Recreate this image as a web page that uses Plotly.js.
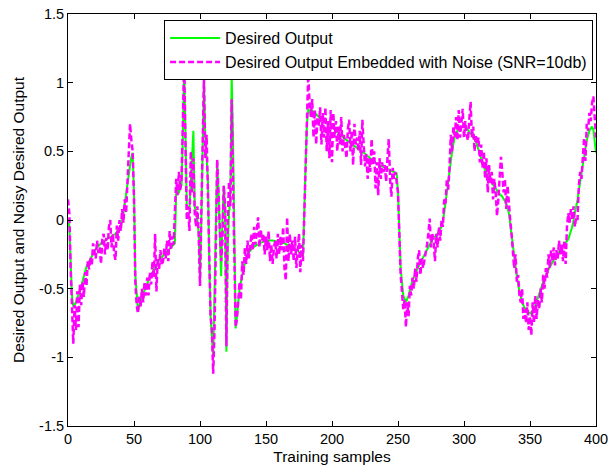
<!DOCTYPE html>
<html>
<head>
<meta charset="utf-8">
<script src="https://cdn.plot.ly/plotly-3.0.1.min.js"></script>
<style>html,body{margin:0;padding:0;background:#fff;}#chart{width:609px;height:474px;}</style>
</head>
<body>
<div id="chart"></div>
<script>
// Desired output (clean signal), breakpoints
var desiredX = [0,1,3,4,6,10,14,18,21,25,29,33,36,40,42,44,46,48,49,50,51,53,56,61,66,70,74,78,80,81,82,84,86,87,88,89,90,92,93,95,96,97,98,99,100,101,102,103,104,105,106,107,108,110,111,112,113,114,115,116,117,118,119,120,121,122,123,124,125,126,127,128,130,133,136,140,145,150,155,160,164,170,174,178,179,180,181,182,186,192,199,206,214,224,234,244,249,250,251,252,254,256,258,261,265,269,273,276,280,283,285,287,289,291,293,296,299,302,305,309,313,316,319,322,326,329,332,334,336,338,340,342,344,347,350,353,356,360,364,368,371,375,379,382,384,386,389,391,393,395,397,398,400];
var desiredY = [0,-0.05,-0.55,-0.63,-0.6,-0.48,-0.34,-0.26,-0.21,-0.17,-0.14,-0.12,-0.1,-0.05,0.05,0.19,0.33,0.46,0.49,0.2,-0.4,-0.66,-0.56,-0.44,-0.34,-0.28,-0.24,-0.2,-0.18,-0.17,0.22,0.2,0.25,0.6,1.15,0.6,0.1,0.08,0.3,0.65,0.1,0.05,0.0,-0.1,-0.45,0.0,0.5,1.03,0.6,0.45,0.3,-0.3,-0.7,-1.0,-0.5,0.1,0.42,0.2,-0.2,-0.41,0.0,0.25,0.1,-0.96,-0.2,0.05,0.15,1.06,0.6,-0.3,-0.79,-0.7,-0.5,-0.35,-0.25,-0.2,-0.17,-0.15,-0.15,-0.16,-0.17,-0.2,-0.22,-0.27,0.0,0.4,0.7,0.8,0.79,0.73,0.69,0.62,0.56,0.49,0.41,0.36,0.34,0.2,-0.1,-0.35,-0.55,-0.6,-0.55,-0.44,-0.35,-0.27,-0.2,-0.14,-0.1,-0.05,0.05,0.2,0.36,0.5,0.61,0.67,0.68,0.67,0.63,0.57,0.45,0.36,0.3,0.26,0.2,0.17,0.12,0.05,-0.1,-0.28,-0.41,-0.52,-0.6,-0.66,-0.68,-0.65,-0.56,-0.45,-0.36,-0.29,-0.24,-0.19,-0.14,-0.05,0.05,0.15,0.34,0.46,0.58,0.65,0.68,0.66,0.49];

// Noisy desired output, one value per training sample (0..400)
var noisyY = [
 0.15,0.05,-0.35,-0.7,-0.9,-0.62,-0.8,-0.52,-0.78,-0.47,
 -0.62,-0.45,-0.56,-0.38,-0.48,-0.3,-0.36,-0.27,-0.33,-0.17,
 -0.22,-0.28,-0.15,-0.24,-0.2,-0.32,-0.14,-0.1,-0.25,-0.13,
 -0.22,-0.05,0.0,-0.2,-0.1,-0.25,-0.29,-0.04,-0.15,0.0,
 -0.08,0.08,-0.02,0.15,0.05,0.24,0.45,0.7,0.58,0.5,
 0.15,-0.45,-0.62,-0.68,-0.55,-0.63,-0.5,-0.6,-0.45,-0.55,
 -0.42,-0.55,-0.38,-0.47,-0.3,-0.42,-0.1,-0.52,-0.28,-0.36,
 -0.22,-0.33,-0.3,-0.2,-0.28,-0.15,-0.3,-0.08,-0.22,-0.12,
 -0.18,0.1,0.3,0.18,0.35,0.22,0.3,0.7,1.15,0.55,
 0.0,0.1,-0.08,0.5,0.2,0.45,0.05,-0.05,0.1,-0.1,
 -0.48,0.05,0.6,1.03,0.45,0.62,0.2,-0.25,-0.7,-0.8,
 -1.12,-0.8,-0.3,0.44,0.2,0.0,-0.3,-0.15,0.25,0.1,
 -0.92,0.0,0.28,0.1,0.88,0.3,-0.4,-0.78,-0.72,-0.55,
 -0.45,-0.58,-0.3,-0.4,-0.2,-0.32,-0.15,-0.28,-0.2,-0.1,
 -0.22,-0.05,-0.18,-0.08,0.02,-0.2,-0.07,-0.15,-0.1,-0.25,
 -0.12,-0.22,-0.08,-0.3,-0.18,-0.32,-0.2,-0.15,-0.28,-0.1,
 -0.25,-0.12,-0.22,-0.05,-0.35,-0.44,0.02,-0.3,-0.1,-0.25,
 -0.15,-0.3,-0.12,-0.35,-0.2,-0.1,-0.38,-0.18,-0.3,0.05,
 0.45,0.75,1.06,0.85,0.75,0.88,0.6,0.8,0.55,0.75,
 0.68,0.82,0.55,0.78,0.6,0.82,0.5,0.72,0.45,0.8,
 0.42,0.78,0.6,0.72,0.5,0.68,0.55,0.75,0.5,0.62,
 0.55,0.45,0.66,0.73,0.5,0.65,0.4,0.7,0.55,0.6,
 0.5,0.65,0.4,0.73,0.55,0.39,0.48,0.3,0.45,0.35,
 0.59,0.4,0.5,0.23,0.42,0.18,0.45,0.3,0.42,0.35,
 0.4,0.28,0.45,0.59,0.3,0.17,0.38,0.3,0.35,0.28,
 0.2,-0.1,-0.4,-0.52,-0.65,-0.58,-0.78,-0.6,-0.7,-0.48,
 -0.55,-0.42,-0.5,-0.35,-0.45,-0.28,-0.22,-0.4,-0.28,-0.35,
 -0.3,-0.25,-0.18,-0.1,0.01,-0.2,-0.1,-0.15,-0.3,-0.1,
 -0.2,-0.05,-0.15,0.0,-0.05,0.15,0.12,0.3,0.22,0.38,
 0.62,0.5,0.68,0.6,0.75,0.58,0.8,0.6,0.7,0.81,
 0.6,0.72,0.62,0.58,0.73,0.86,0.6,0.68,0.5,0.62,
 0.55,0.6,0.42,0.55,0.38,0.5,0.3,0.45,0.2,0.4,
 0.27,0.35,0.15,0.3,0.2,0.03,0.15,0.3,0.46,0.35,
 0.2,0.3,0.08,0.25,0.1,0.0,-0.1,-0.2,-0.35,-0.25,
 -0.45,-0.4,-0.55,-0.6,-0.5,-0.72,-0.65,-0.75,-0.6,-0.8,
 -0.7,-0.84,-0.6,-0.75,-0.55,-0.72,-0.58,-0.65,-0.5,-0.6,
 -0.4,-0.5,-0.35,-0.42,-0.25,-0.35,-0.22,-0.3,-0.2,-0.33,
 -0.22,-0.28,-0.15,-0.25,-0.18,-0.3,-0.15,-0.32,-0.05,0.05,
 -0.02,0.08,0.0,0.1,-0.05,0.02,0.0,0.25,0.35,0.3,
 0.45,0.6,0.43,0.7,0.65,0.78,0.72,0.85,0.9,0.78,
 0.6
];
var noisyX = noisyY.map(function(_, i){ return i; });

var xTicks = [0,50,100,150,200,250,300,350,400];
var yTicks = [-1.5,-1,-0.5,0,0.5,1,1.5];
var yTickText = ['-1.5','-1','-0.5','0','0.5','1','1.5'];

var traces = [
  {x: desiredX, y: desiredY, type: 'scatter', mode: 'lines', name: 'Desired Output',
   line: {color: '#00FF00', width: 2}},
  {x: noisyX, y: noisyY, type: 'scatter', mode: 'lines', name: 'Desired Output Embedded with Noise (SNR=10db)',
   line: {color: '#FF00FF', width: 2.5, dash: '6px,3px'}}
];

var fam = 'Liberation Sans, Arial, sans-serif';
var axisCommon = {
  showline: true, linecolor: '#000', linewidth: 1, mirror: 'ticks',
  ticks: 'inside', ticklen: 5, tickcolor: '#000', showgrid: false, zeroline: false,
  tickfont: {family: fam, size: 14.5, color: '#000'}
};

var layout = {
  width: 609, height: 474,
  margin: {l: 68, r: 13, t: 14, b: 48},
  paper_bgcolor: '#fff', plot_bgcolor: '#fff',
  font: {family: fam, size: 14, color: '#000'},
  xaxis: Object.assign({}, axisCommon, {range: [0, 400], tickvals: xTicks, ticktext: xTicks.map(String),
    title: {text: 'Training samples', standoff: 4, font: {family: fam, size: 15.5, color: '#000'}}}),
  yaxis: Object.assign({}, axisCommon, {range: [-1.5, 1.5], tickvals: yTicks, ticktext: yTickText,
    title: {text: 'Desired Output and Noisy Desired Output', standoff: 10, font: {family: fam, size: 15.5, color: '#000'}}}),
  showlegend: true,
  legend: {x: 0.182, y: 0.985, xanchor: 'left', yanchor: 'top', bgcolor: '#fff',
    bordercolor: '#000', borderwidth: 1, font: {family: fam, size: 16, color: '#000'},
    itemwidth: 50, tracegroupgap: 0}
};

Plotly.newPlot('chart', traces, layout, {staticPlot: true, displayModeBar: false});
</script>
</body>
</html>
